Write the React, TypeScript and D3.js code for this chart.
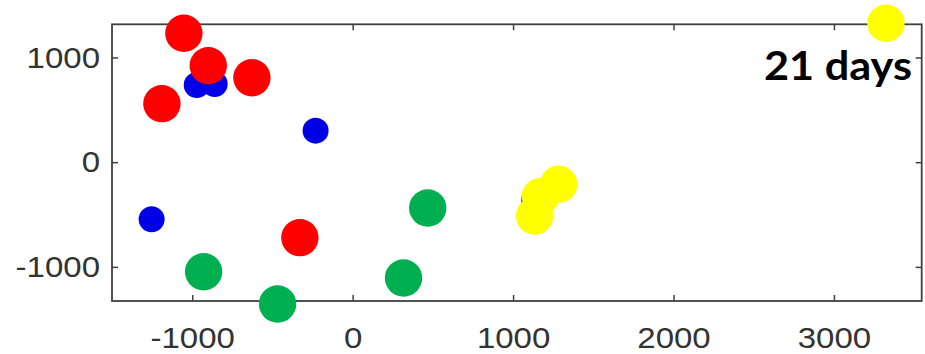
import React, { useEffect, useRef } from "react";
import * as d3 from "d3";

// Embedding coordinates per group
const blueX = [-972, -860, -231, -1253, 1132];
const blueY = [737, 747, 301, -545, -361];

const redX = [-1052, -900, -628, -1189, -329];
const redY = [1231, 922, 807, 559, -721];

const greenX = [-929, -468, 468, 317];
const greenY = [-1046, -1354, -437, -1106];

const yellowX = [1284, 1170, 1134, 3324];
const yellowY = [-211, -330, -514, 1327];

const xTicks = [-1000, 0, 1000, 2000, 3000];
const yTicks = [-1000, 0, 1000];
const xDomain = [-1500, 3547];
const yDomain = [-1326, 1317];

const annotation = "21 days";

const W = 925;
const H = 354;
const M = { left: 112, right: 3.3, top: 24.3, bottom: 53 };

export default function App() {
  const ref = useRef<SVGSVGElement | null>(null);

  useEffect(() => {
    const svg = d3.select(ref.current);
    svg.selectAll("*").remove();

    const x = d3.scaleLinear().domain(xDomain).range([M.left, W - M.right]);
    const y = d3.scaleLinear().domain(yDomain).range([H - M.bottom, M.top]);

    svg.append("rect").attr("width", W).attr("height", H).attr("fill", "#fff");

    const axisColor = "#404040";
    const tickLen = 6;
    const fontFamily = "'Liberation Sans', Arial, sans-serif";

    // slightly wide tick-label lettering
    const widen = (sel: d3.Selection<any, any, any, any>) => {
      sel.each(function () {
        const t = this as SVGTextElement;
        const w = t.getComputedTextLength();
        t.setAttribute("textLength", String(w * 1.1));
        t.setAttribute("lengthAdjust", "spacingAndGlyphs");
      });
    };

    // bottom axis labels and ticks (inward on bottom and top)
    const xAxis = d3
      .axisBottom(x)
      .tickValues(xTicks)
      .tickSize(-tickLen)
      .tickPadding(26)
      .tickFormat((d) => String(d));
    const gx = svg.append("g").attr("transform", `translate(0,${H - M.bottom})`).call(xAxis);
    gx.select(".domain").remove();
    gx.selectAll("line").attr("stroke", axisColor).attr("stroke-width", 1.5);
    gx.selectAll("text")
      .attr("fill", "#333")
      .attr("font-size", 30)
      .attr("font-family", fontFamily)
      .call(widen);

    const xTop = d3.axisTop(x).tickValues(xTicks).tickSize(-tickLen).tickFormat(() => "");
    const gxt = svg.append("g").attr("transform", `translate(0,${M.top})`).call(xTop);
    gxt.select(".domain").remove();
    gxt.selectAll("line").attr("stroke", axisColor).attr("stroke-width", 1.5);

    const yAxis = d3
      .axisLeft(y)
      .tickValues(yTicks)
      .tickSize(-tickLen)
      .tickPadding(12)
      .tickFormat((d) => String(d));
    const gy = svg.append("g").attr("transform", `translate(${M.left},0)`).call(yAxis);
    gy.select(".domain").remove();
    gy.selectAll("line").attr("stroke", axisColor).attr("stroke-width", 1.5);
    gy.selectAll("text")
      .attr("fill", "#333")
      .attr("font-size", 30)
      .attr("font-family", fontFamily)
      .call(widen);

    const yRight = d3.axisRight(y).tickValues(yTicks).tickSize(-tickLen).tickFormat(() => "");
    const gyr = svg.append("g").attr("transform", `translate(${W - M.right},0)`).call(yRight);
    gyr.select(".domain").remove();
    gyr.selectAll("line").attr("stroke", axisColor).attr("stroke-width", 1.5);

    // frame
    svg
      .append("rect")
      .attr("x", M.left)
      .attr("y", M.top)
      .attr("width", W - M.right - M.left)
      .attr("height", H - M.bottom - M.top)
      .attr("fill", "none")
      .attr("stroke", axisColor)
      .attr("stroke-width", 1.8);

    const defs = svg.append("defs");
    defs
      .append("filter")
      .attr("id", "soft")
      .append("feGaussianBlur")
      .attr("stdDeviation", 0.7);

    const drawGroup = (xs: number[], ys: number[], color: string, r: number, soft = false) => {
      const g = svg.append("g");
      if (soft) g.attr("filter", "url(#soft)");
      g.selectAll("circle")
        .data(xs.map((v, i) => [v, ys[i]]))
        .join("circle")
        .attr("cx", (d) => x(d[0]))
        .attr("cy", (d) => y(d[1]))
        .attr("r", r)
        .attr("fill", color);
    };

    drawGroup(blueX, blueY, "#0000e6", 13, true);
    drawGroup(redX, redY, "#ff0000", 18.7);
    drawGroup(greenX, greenY, "#00b050", 18.7);
    drawGroup(yellowX, yellowY, "#ffff00", 18.7);

    svg
      .append("text")
      .attr("x", 912)
      .attr("y", 80)
      .attr("text-anchor", "end")
      .attr("font-family", "Lato, 'Open Sans', sans-serif")
      .attr("font-weight", 700)
      .attr("font-size", 41)
      .attr("textLength", 148)
      .attr("lengthAdjust", "spacingAndGlyphs")
      .attr("fill", "#000")
      .text(annotation);
  }, []);

  return (
    <svg
      ref={ref}
      width={W}
      height={H}
      style={{ position: "absolute", left: 0, top: 0, display: "block" }}
    />
  );
}
